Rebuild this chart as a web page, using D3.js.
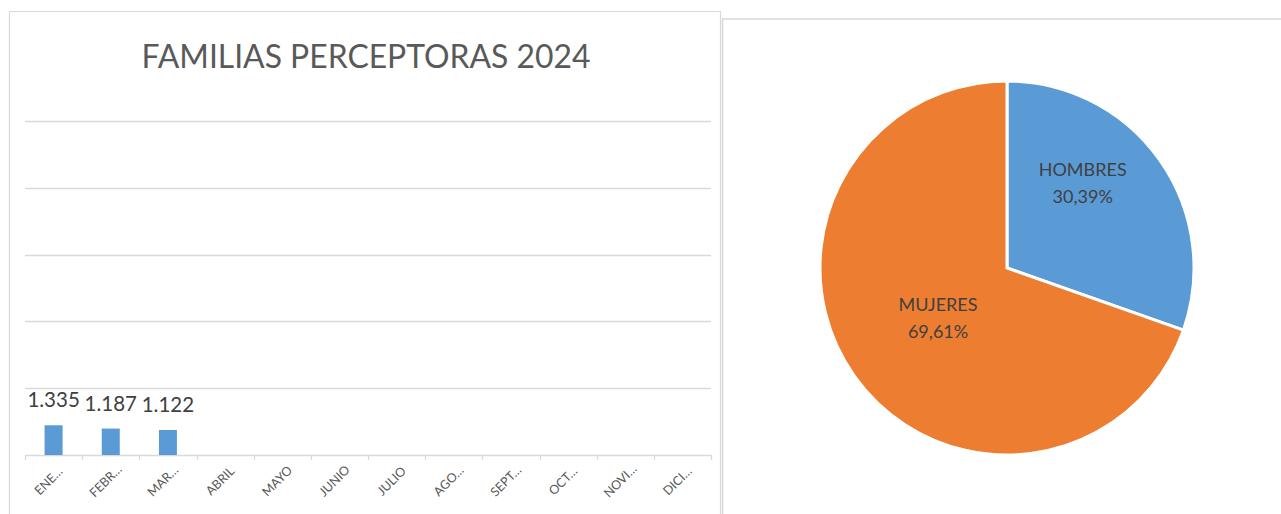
<!DOCTYPE html>
<html><head><meta charset="utf-8">
<script src="https://cdn.jsdelivr.net/npm/d3@7"></script>
<style>
html,body{margin:0;padding:0;background:#fff;}
svg{display:block;font-family:Lato,"Open Sans",sans-serif;}
</style></head>
<body>
<svg id="c" width="1281" height="514"></svg>
<script>
// ---- data ----
const title = "FAMILIAS PERCEPTORAS 2024";
const months = ["ENE…","FEBR…","MAR…","ABRIL","MAYO","JUNIO","JULIO","AGO…","SEPT…","OCT…","NOVI…","DICI…"];
const values = [1335, 1187, 1122, null, null, null, null, null, null, null, null, null];
const valueLabels = ["1.335", "1.187", "1.122"];
const yTicks = [0, 3000, 6000, 9000, 12000, 15000];
const pieCategories = ["HOMBRES", "MUJERES"];
const pieValues = [30.39, 69.61];
const pieLabels = ["30,39%", "69,61%"];

const svg = d3.select("#c");
const grid = "#d9d9d9";

// ---- frames ----
svg.append("path").attr("d","M9.5,520 V11.5 H720.5 V520").attr("fill","none").attr("stroke",grid).attr("stroke-width",1.2);
svg.append("path").attr("d","M722.5,520 V19 H1290").attr("fill","none").attr("stroke",grid).attr("stroke-width",1.6);

// ---- bar chart ----
const x = d3.scaleBand().domain(months).range([25, 711]).paddingInner(0.685).paddingOuter(0.3425);
const y = d3.scaleLinear().domain([0, 15000]).range([455, 121]);

svg.append("g").selectAll("line").data(yTicks.slice(1)).join("line")
  .attr("x1", 25).attr("x2", 711)
  .attr("y1", d => Math.round(y(d)) + 0.5).attr("y2", d => Math.round(y(d)) + 0.5)
  .attr("stroke", grid).attr("stroke-width", 1.3);

// baseline + boundary ticks
const step = x.step();
const x0 = x.range()[0];
svg.append("line").attr("x1", 25).attr("x2", 711).attr("y1", y(0)+0.5).attr("y2", y(0)+0.5).attr("stroke", grid).attr("stroke-width",1.3);
svg.append("g").selectAll("line").data(d3.range(months.length + 1)).join("line")
  .attr("x1", i => Math.round(x0 + i*step) + 0.5).attr("x2", i => Math.round(x0 + i*step) + 0.5)
  .attr("y1", y(0)).attr("y2", y(0) + 5).attr("stroke", grid).attr("stroke-width",1.3);

const barData = months.map((m, i) => ({m, v: values[i], lab: valueLabels[i]})).filter(d => d.v != null);
svg.append("g").selectAll("rect").data(barData).join("rect")
  .attr("x", d => x(d.m)).attr("width", x.bandwidth())
  .attr("y", d => y(d.v)).attr("height", d => y(0) - y(d.v))
  .attr("fill", "#5B9BD5");

svg.append("g").selectAll("text").data(barData).join("text")
  .attr("x", d => x(d.m) + x.bandwidth()/2).attr("y", d => y(d.v) - 18)
  .attr("text-anchor", "middle").attr("fill", "#404040").attr("font-size", 20.5)
  .text(d => d.lab);

// x labels
svg.append("g").selectAll("text").data(months).join("text")
  .attr("transform", d => `translate(${x(d) + x.bandwidth()/2 - 2},${y(0) + 29}) rotate(-45)`)
  .attr("text-anchor", "middle").attr("fill", "#595959").attr("font-size", 12.5)
  .text(d => d);

// title
const t = svg.append("text").attr("x", 366).attr("y", 68).attr("text-anchor", "middle")
  .attr("fill", "#595959").attr("font-size", 32).text(title);
const tw = t.node().getComputedTextLength();
t.attr("font-size", 32 * 449 / tw);

// ---- pie ----
const cx = 1007, cy = 268, R = 187;
const pie = d3.pie().sort(null).value(d => d.v);
const pieData = pie(pieCategories.map((c, i) => ({c, v: pieValues[i], lab: pieLabels[i]})));
const arc = d3.arc().innerRadius(0).outerRadius(R);
const colors = ["#5B9BD5", "#ED7D31"];
const pg = svg.append("g").attr("transform", `translate(${cx},${cy})`);
pg.selectAll("path").data(pieData).join("path")
  .attr("d", arc).attr("fill", (d, i) => colors[i])
  .attr("stroke", "#fff").attr("stroke-width", 3).attr("stroke-linejoin", "miter");

const labelR = [0.61, 0.457];
const labelAngleShift = [-0.229, -0.016];
pieData.forEach((d, i) => {
  const a = (d.startAngle + d.endAngle) / 2 + labelAngleShift[i];
  const r = R * labelR[i];
  const lx = Math.sin(a) * r, ly = -Math.cos(a) * r;
  const g = pg.append("text").attr("text-anchor", "middle").attr("fill", "#404040").attr("font-size", 18);
  g.append("tspan").attr("x", lx).attr("y", ly - 7).text(d.data.c);
  g.append("tspan").attr("x", lx).attr("y", ly + 20).text(d.data.lab);
});
</script>
</body></html>
